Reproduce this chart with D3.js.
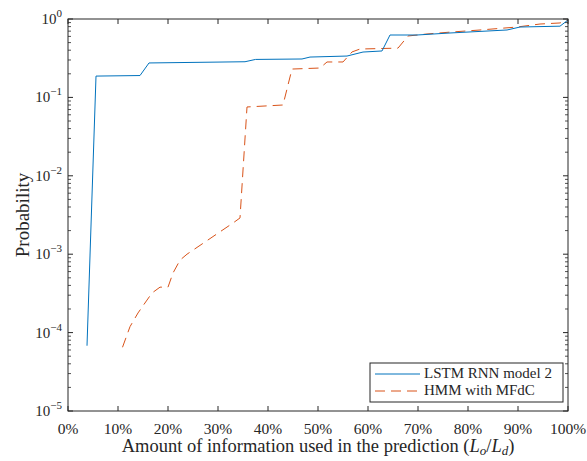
<!DOCTYPE html>
<html>
<head>
<meta charset="utf-8">
<script src="https://cdn.jsdelivr.net/npm/d3@7"></script>
<style>
  body { margin: 0; background: #fff; }
  text { font-family: "Liberation Serif", "DejaVu Serif", serif; fill: #262626; }
</style>
</head>
<body>
<div id="container"></div>
<script>
// data (x in %, y is probability)
var lstmX = [3.8, 5.6, 14.4, 16.2, 35.4, 37.5, 46.8, 48.4, 55.8, 59, 62.8, 64.4, 69.8, 76.4, 87.8, 90.4, 98.4, 100];
var lstmY = [0.000068, 0.187, 0.19, 0.275, 0.285, 0.305, 0.309, 0.327, 0.337, 0.379, 0.391, 0.625, 0.625, 0.663, 0.724, 0.79, 0.81, 0.97];

var hmmX = [10.9, 12.4, 14, 15.8, 16.8, 18.4, 20, 21, 22.4, 23.8, 33, 34.4, 35.8, 43, 44.8, 50.4, 51.8, 55, 56.8, 58.4, 66, 68, 71.8, 76.4, 82.4, 89.8, 94.4, 98.4, 100];
var hmmY = [0.000065, 0.000119, 0.000178, 0.00026, 0.00032, 0.00038, 0.00038, 0.000575, 0.00084, 0.001, 0.0025, 0.0029, 0.0755, 0.08, 0.23, 0.237, 0.283, 0.283, 0.38, 0.414, 0.425, 0.607, 0.644, 0.68, 0.724, 0.79, 0.863, 0.89, 0.97];

var xTicks = [0, 10, 20, 30, 40, 50, 60, 70, 80, 90, 100];
var yExps = [0, -1, -2, -3, -4, -5];
var seriesNames = ["LSTM RNN model 2", "HMM with MFdC"];
var colors = ["#0072BD", "#D95319"];

// plot box (careful: "top" is taken by window.top)
var W = 587, H = 461;
var pLeft = 68, pRight = 568, pTop = 19, pBottom = 411;

var svg = d3.select("#container").append("svg")
	.attr("width", W)
	.attr("height", H);

var x = d3.scaleLinear().domain([0, 100]).range([pLeft, pRight]);
var y = d3.scaleLog().domain([1e-5, 1]).range([pBottom, pTop]);

var axisCol = "#262626";
var dash = "10,6";

// minor ticks on log axis
var minor = [];
for (var e = -5; e < 0; e++) {
	for (var m = 2; m <= 9; m++) minor.push(m * Math.pow(10, e));
}

var lines = svg.append("g").attr("class", "plot");

function pts(xs, ys) {
	return xs.map(function(d, i) { return [d, ys[i]]; });
}
var line = d3.line()
	.x(function(d) { return x(d[0]); })
	.y(function(d) { return y(d[1]); });

lines.append("path")
	.attr("d", line(pts(hmmX, hmmY)))
	.attr("fill", "none")
	.attr("stroke", colors[1])
	.attr("stroke-width", 1)
	.attr("stroke-dasharray", dash);

lines.append("path")
	.attr("d", line(pts(lstmX, lstmY)))
	.attr("fill", "none")
	.attr("stroke", colors[0])
	.attr("stroke-width", 1);

// axes box with inward ticks
var ax = svg.append("g").attr("class", "axes");

ax.append("rect")
	.attr("x", pLeft).attr("y", pTop)
	.attr("width", pRight - pLeft).attr("height", pBottom - pTop)
	.attr("fill", "none")
	.attr("stroke", axisCol)
	.attr("stroke-width", 1);

xTicks.forEach(function(t) {
	ax.append("line").attr("x1", x(t)).attr("x2", x(t)).attr("y1", pBottom).attr("y2", pBottom - 5).attr("stroke", axisCol);
	ax.append("line").attr("x1", x(t)).attr("x2", x(t)).attr("y1", pTop).attr("y2", pTop + 5).attr("stroke", axisCol);
	ax.append("text")
		.attr("x", x(t)).attr("y", 434)
		.attr("text-anchor", "middle")
		.style("font-size", "15.5px")
		.text(t + "%");
});

yExps.forEach(function(e) {
	var v = Math.pow(10, e);
	ax.append("line").attr("x1", pLeft).attr("x2", pLeft + 5).attr("y1", y(v)).attr("y2", y(v)).attr("stroke", axisCol);
	ax.append("line").attr("x1", pRight).attr("x2", pRight - 5).attr("y1", y(v)).attr("y2", y(v)).attr("stroke", axisCol);
	var t = ax.append("text")
		.attr("x", pLeft - 6).attr("y", y(v) + 5)
		.attr("text-anchor", "end")
		.style("font-size", "15px");
	t.append("tspan").text("10");
	t.append("tspan").attr("dy", -7).style("font-size", "11px").text(e === 0 ? "0" : "\u2212" + (-e));
});

minor.forEach(function(v) {
	ax.append("line").attr("x1", pLeft).attr("x2", pLeft + 3).attr("y1", y(v)).attr("y2", y(v)).attr("stroke", axisCol).attr("stroke-width", 0.8);
	ax.append("line").attr("x1", pRight).attr("x2", pRight - 3).attr("y1", y(v)).attr("y2", y(v)).attr("stroke", axisCol).attr("stroke-width", 0.8);
});

// axis labels
var xl = svg.append("text")
	.attr("x", (pLeft + pRight) / 2).attr("y", 452)
	.attr("text-anchor", "middle")
	.style("font-size", "18.5px");
xl.append("tspan").text("Amount of information used in the prediction (");
xl.append("tspan").style("font-style", "italic").text("L");
xl.append("tspan").attr("dy", 3).style("font-size", "13px").style("font-style", "italic").text("o");
xl.append("tspan").attr("dy", -3).text("/");
xl.append("tspan").style("font-style", "italic").text("L");
xl.append("tspan").attr("dy", 3).style("font-size", "13px").style("font-style", "italic").text("d");
xl.append("tspan").attr("dy", -3).text(")");

svg.append("text")
	.attr("transform", "translate(29," + ((pTop + pBottom) / 2) + ") rotate(-90)")
	.attr("text-anchor", "middle")
	.style("font-size", "19px")
	.text("Probability");

// legend
var lg = svg.append("g").attr("class", "legend");
lg.append("rect")
	.attr("x", 370).attr("y", 363)
	.attr("width", 193).attr("height", 39)
	.attr("fill", "#fff")
	.attr("stroke", axisCol)
	.attr("stroke-width", 1);

seriesNames.forEach(function(name, i) {
	var ly = 374 + i * 17;
	lg.append("line")
		.attr("x1", 375).attr("x2", 420)
		.attr("y1", ly).attr("y2", ly)
		.attr("stroke", colors[i])
		.attr("stroke-width", 1)
		.attr("stroke-dasharray", i === 1 ? dash : null);
	lg.append("text")
		.attr("x", 424).attr("y", ly + 4)
		.style("font-size", "15px")
		.text(name);
});
</script>
</body>
</html>
